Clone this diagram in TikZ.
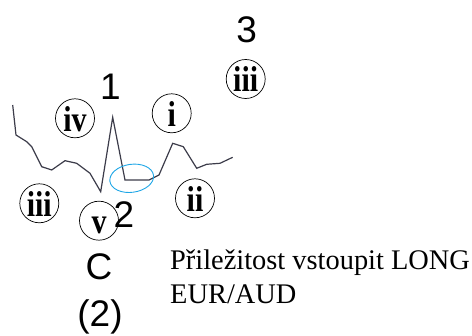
\documentclass[tikz,border=0pt]{standalone}
\usepackage{fontspec}
\usepackage{graphicx}
\setmainfont{Liberation Serif}
\newfontfamily\digitfont{Liberation Sans}
\usetikzlibrary{shapes.geometric}
\definecolor{pricecol}{HTML}{3C3C4A}
\definecolor{zonecol}{HTML}{1EA6E6}
% tall roman numerals for the wave degree marks
\newcommand{\wavemark}[1]{\scalebox{1}[1.2]{#1}}
\begin{document}
\begin{tikzpicture}[x=1pt, y=-1pt,
  wavenum/.style={circle, draw, line width=0.7pt, minimum size=39pt, inner sep=0pt,
    text height=26pt, text depth=0pt,
    font=\bfseries\fontsize{30}{30}\selectfont},
  bignum/.style={anchor=base, inner sep=0pt, font=\digitfont\fontsize{37}{37}\selectfont},
  price/.style={pricecol, line width=1.2pt, line join=miter},
  note/.style={anchor=base west, inner sep=0pt, font=\fontsize{28.4}{34}\selectfont}]
\useasboundingbox (0,0) rectangle (472,336);

% price path
\coordinate (p0) at (12.7,105);
\coordinate (p1) at (16,135);
\coordinate (p2) at (26.7,141.7);
\coordinate (p3) at (31.7,146.7);
\coordinate (p4) at (41.7,166.7);
\coordinate (p5) at (51.7,170);
\coordinate (p6) at (65,160.7);
\coordinate (p7) at (76.7,163.3);
\coordinate (p8) at (90,173.3);
\coordinate (p9) at (100.7,191.7);
\coordinate (p10) at (112.7,117.3);
\coordinate (p11) at (125,180);
\coordinate (p12) at (149,180);
\coordinate (p13) at (159,175);
\coordinate (p14) at (172.7,143.3);
\coordinate (p15) at (183.3,146.7);
\coordinate (p16) at (196.7,168.3);
\coordinate (p17) at (206.7,164.3);
\coordinate (p18) at (220,163.3);
\coordinate (p19) at (232.7,157.3);
\draw[price] (p0) -- (p1) -- (p2) -- (p3) -- (p4) -- (p5) -- (p6) -- (p7) -- (p8)
  -- (p9) -- (p10) -- (p11) -- (p12) -- (p13) -- (p14) -- (p15) -- (p16) -- (p17)
  -- (p18) -- (p19);

% entry zone
\node[ellipse, draw=zonecol, line width=0.9pt, minimum width=44pt, minimum height=28pt,
  inner sep=0pt, rotate=8] (zone) at (131.7,178.3) {};

% wave labels
\node[bignum] (n3) at (246.7,43) {3};
\node[bignum] (n1) at (110.5,100) {1};
\node[bignum] (n2) at (124,227.7) {2};
\node[bignum] (nC) at (99,280) {C};
\node[bignum] (nC2) at (100,327) {(2)};

\node[wavenum] (w3) at (245.7,79) {\wavemark{iii}};
\node[wavenum] (w4) at (75,118.3) {\wavemark{iv}};
\node[wavenum] (w1) at (171.7,113.3) {\wavemark{i}};
\node[wavenum] (w3b) at (39.3,203.3) {\wavemark{iii}};
\node[wavenum] (w5) at (99,220.7) {\wavemark{v}};
\node[wavenum] (w2) at (195,198.3) {\wavemark{ii}};

% note
\node[note] (txt1) at (170,270) {Přiležitost vstoupit LONG};
\node[note] (txt2) at (170,304) {EUR/AUD};
\end{tikzpicture}
\end{document}
